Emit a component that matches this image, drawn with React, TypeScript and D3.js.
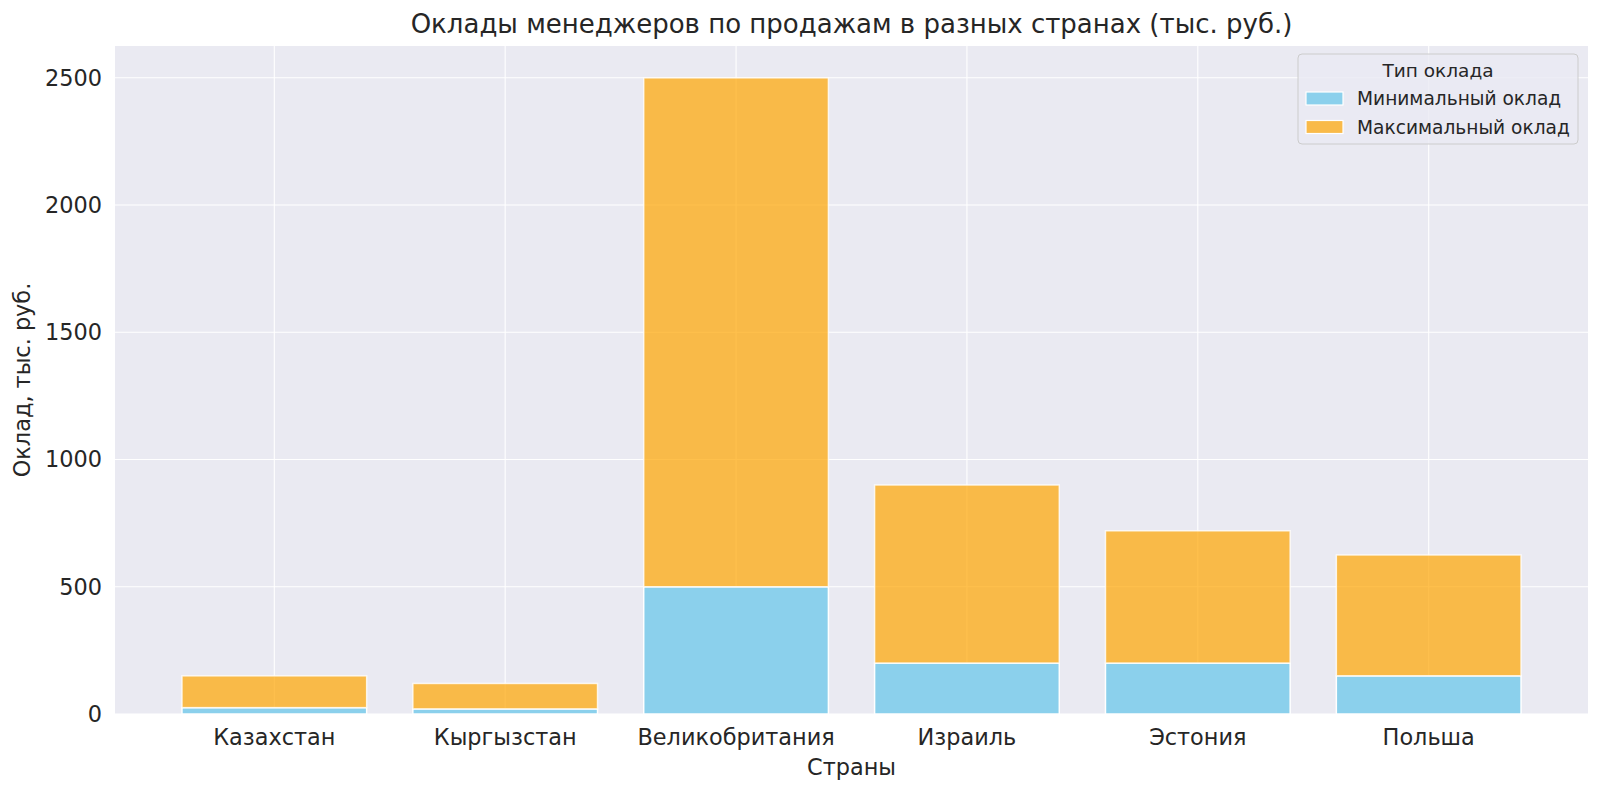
import React from "react";
import * as d3 from "d3";

const countries = ["Казахстан", "Кыргызстан", "Великобритания", "Израиль", "Эстония", "Польша"];
const minSalary = [25, 20, 500, 200, 200, 150];
const maxSalary = [150, 120, 2500, 900, 720, 625];
const yTicks = [0, 500, 1000, 1500, 2000, 2500];
const seriesNames = ["Минимальный оклад", "Максимальный оклад"];
const legendTitle = "Тип оклада";
const title = "Оклады менеджеров по продажам в разных странах (тыс. руб.)";
const xLabel = "Страны";
const yLabel = "Оклад, тыс. руб.";

const W = 1600, H = 794;
const left = 115, right = 1588, top = 46, bottom = 714;
const FONT = "DejaVu Sans, sans-serif";
const BLUE = "#87CEEB";
const ORANGE = "#FFA500";

export default function App() {
  const x = d3.scaleLinear().domain([-0.69, countries.length - 1 + 0.69]).range([left, right]);
  const y = d3.scaleLinear().domain([0, 2625]).range([bottom, top]);
  const bw = x(0.4) - x(-0.4);

  return (
    <div style={{ position: "absolute", left: 0, top: 0 }}>
      <svg width={W} height={H} style={{ display: "block", fontFamily: FONT }}>
        <rect x={0} y={0} width={W} height={H} fill="#ffffff" />
        <rect x={left} y={top} width={right - left} height={bottom - top} fill="#EAEAF2" />
        {yTicks.map((t) => (
          <line key={"gy" + t} x1={left} x2={right} y1={y(t)} y2={y(t)} stroke="#ffffff" strokeWidth={1.1} />
        ))}
        {countries.map((c, i) => (
          <line key={"gx" + c} x1={x(i)} x2={x(i)} y1={top} y2={bottom} stroke="#ffffff" strokeWidth={1.1} />
        ))}
        {countries.map((c, i) => (
          <g key={"bar" + c}>
            <rect
              x={x(i) - bw / 2}
              width={bw}
              y={y(minSalary[i])}
              height={y(0) - y(minSalary[i])}
              fill={BLUE}
              fillOpacity={0.97}
              stroke="#ffffff"
              strokeWidth={1.5}
            />
            <rect
              x={x(i) - bw / 2}
              width={bw}
              y={y(maxSalary[i])}
              height={y(minSalary[i]) - y(maxSalary[i])}
              fill={ORANGE}
              fillOpacity={0.7}
              stroke="#ffffff"
              strokeOpacity={0.8}
              strokeWidth={1.5}
            />
          </g>
        ))}
        {yTicks.map((t) => (
          <text key={"ty" + t} x={left - 13} y={y(t)} dy="0.35em" textAnchor="end" fontSize={22.4} fill="#262626">
            {t}
          </text>
        ))}
        {countries.map((c, i) => (
          <text key={"tx" + c} x={x(i)} y={bottom + 31} textAnchor="middle" fontSize={22.4} fill="#262626">
            {c}
          </text>
        ))}
        <text x={(left + right) / 2} y={775} textAnchor="middle" fontSize={22.4} fill="#262626">
          {xLabel}
        </text>
        <text
          transform={`translate(30, ${(top + bottom) / 2}) rotate(-90)`}
          textAnchor="middle"
          fontSize={22.4}
          fill="#262626"
        >
          {yLabel}
        </text>
        <text x={(left + right) / 2} y={33} textAnchor="middle" fontSize={26} fill="#262626">
          {title}
        </text>
        <g>
          <rect x={1298} y={54} width={280} height={90} rx={4} fill="#EAEAF2" fillOpacity={0.8} stroke="#cccccc" strokeWidth={1} />
          <text x={1438} y={77} textAnchor="middle" fontSize={18.5} fill="#262626">
            {legendTitle}
          </text>
          {seriesNames.map((s, k) => (
            <g key={"lg" + s}>
              <rect
                x={1306}
                y={92 + k * 28.5}
                width={37}
                height={13}
                fill={k === 0 ? BLUE : ORANGE}
                fillOpacity={k === 0 ? 0.97 : 0.7}
                stroke="#ffffff"
                strokeWidth={1.2}
              />
              <text x={1357} y={98.5 + k * 28.5} dy="0.35em" fontSize={18.6} fill="#262626">
                {s}
              </text>
            </g>
          ))}
        </g>
      </svg>
    </div>
  );
}
